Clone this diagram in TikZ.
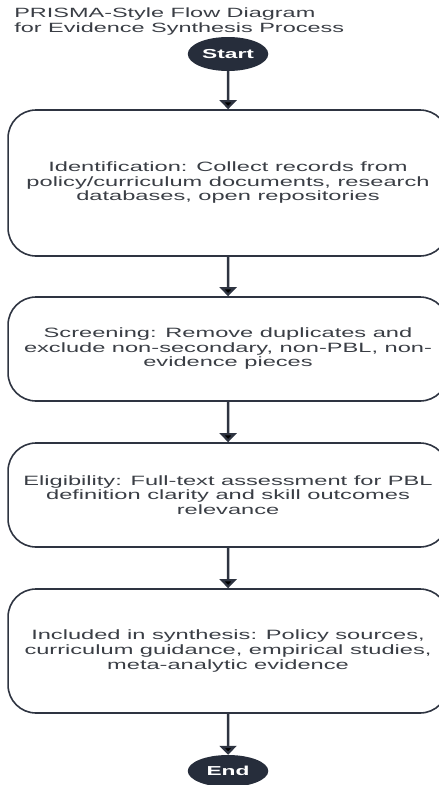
\documentclass[tikz,border=0pt]{standalone}
\usepackage{fontspec}
\setmainfont{Liberation Sans}
\usetikzlibrary{arrows.meta,shapes.geometric}
\definecolor{navy}{HTML}{262D3B}
\definecolor{edgeline}{HTML}{2E3441}
\definecolor{txt}{HTML}{3A3E45}
\tikzset{
  stage/.style={draw=edgeline,line width=1.6pt,rounded corners=28pt,minimum width=251.4pt,inner sep=0pt,align=center,text=txt,font=\fontsize{13.5}{14.5}\selectfont},
  term/.style={ellipse,fill=navy,minimum width=46pt,minimum height=34pt,inner sep=0pt,text=white,font=\fontsize{13}{13}\selectfont\bfseries},
  flow/.style={draw=edgeline,line width=2.6pt,-{Triangle[width=17pt,length=9pt]}}
}
\begin{document}
\begin{tikzpicture}[x=1pt,y=-1pt,xscale=1.75,transform shape]
\useasboundingbox (0,0) rectangle (250.29,785);
\node[anchor=north west,inner sep=0pt,align=left,text=txt,font=\fontsize{13.4}{15}\selectfont] (title) at (8,7.5) {PRISMA-Style Flow Diagram\\for Evidence Synthesis Process};

\node[term] (start) at (130.3,54) {Start};
\node[stage,minimum height=146pt] (ident) at (130.3,183) {Identification: Collect records from\\policy/curriculum documents, research\\databases, open repositories};
\node[stage,minimum height=104pt] (screen) at (130.3,349) {Screening: Remove duplicates and\\exclude non-secondary, non-PBL, non-\\evidence pieces};
\node[stage,minimum height=104pt] (elig) at (130.3,495) {Eligibility: Full-text assessment for PBL\\definition clarity and skill outcomes\\relevance};
\node[stage,minimum height=124pt] (incl) at (130.3,651) {Included in synthesis: Policy sources,\\curriculum guidance, empirical studies,\\meta-analytic evidence};
\node[term,minimum height=32pt] (stop) at (130.3,771) {End};

%%%%%%%%
\path [flow] (start) edge (ident);
\path [flow] (ident) edge (screen);
\path [flow] (screen) edge (elig);
\path [flow] (elig) edge (incl);
\path [flow] (incl) edge (stop);
%%%%%%%%%%%%
\end{tikzpicture}
\end{document}
